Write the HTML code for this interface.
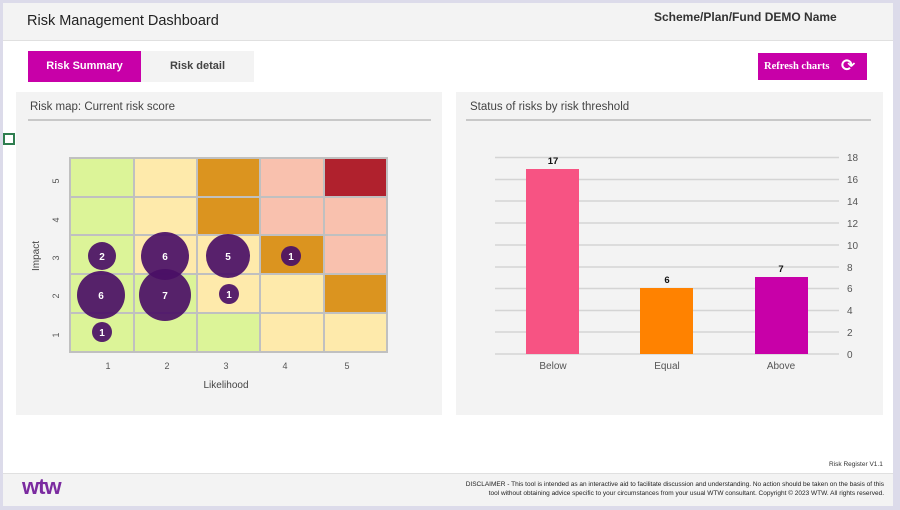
<!DOCTYPE html>
<html><head><meta charset="utf-8"><style>
body{margin:0;width:900px;height:510px;background:#dcdbea;font-family:"Liberation Sans",Arial,sans-serif;position:relative;overflow:hidden}
.abs{position:absolute}
</style></head><body>
<div class="abs" style="left:3px;top:3px;width:890px;height:502px;background:#fff"></div>
<div class="abs" style="left:3px;top:3px;width:890px;height:37px;background:#f3f3f3;border-bottom:1px solid #e0e0e0"></div>
<div class="abs" style="left:27px;top:13px;font-size:14.5px;color:#222">Risk Management Dashboard</div>
<div class="abs" style="left:654px;top:10px;font-size:12px;font-weight:bold;color:#333">Scheme/Plan/Fund DEMO Name</div>
<div class="abs" style="left:28px;top:51px;width:113px;height:31px;background:#c800a8;color:#fff;font-size:11px;font-weight:bold;text-align:center;line-height:31px">Risk Summary</div>
<div class="abs" style="left:141px;top:51px;width:113px;height:31px;background:#f3f3f3;color:#444;font-size:11px;font-weight:bold;text-align:center;line-height:31px">Risk detail</div>
<div class="abs" style="left:758px;top:53px;width:109px;height:27px;background:#c800a8;color:#fff;font-size:10.5px;font-weight:bold;font-family:'Liberation Serif',serif;line-height:27px;padding-left:6px;box-sizing:border-box">Refresh charts<span style="position:absolute;left:83px;top:0;font-size:17px;font-family:'DejaVu Sans'">⟳</span></div>
<div class="abs" style="left:3px;top:133px;width:12px;height:12px;border:2px solid #2e7d4f;box-sizing:border-box"></div>
<div class="abs" style="left:16px;top:92px;width:426px;height:323px;background:#f3f3f3"></div>
<div class="abs" style="left:456px;top:92px;width:427px;height:323px;background:#f3f3f3"></div>
<div class="abs" style="left:30px;top:101px;font-size:11.5px;color:#444">Risk map: Current risk score</div>
<div class="abs" style="left:28px;top:119px;width:403px;height:2px;background:#c8c8c8"></div>
<div class="abs" style="left:470px;top:101px;font-size:11.5px;color:#444">Status of risks by risk threshold</div>
<div class="abs" style="left:466px;top:119px;width:405px;height:2px;background:#c8c8c8"></div>
<svg class="abs" style="left:0;top:0" width="900" height="510" font-family="Liberation Sans, Arial, sans-serif">
<g stroke="#c0c0c0" stroke-width="2">
<rect x="70" y="158" width="64" height="39" fill="#dcf498"/><rect x="134" y="158" width="63" height="39" fill="#feeaab"/><rect x="197" y="158" width="63" height="39" fill="#db941f"/><rect x="260" y="158" width="64" height="39" fill="#f9c1ae"/><rect x="324" y="158" width="63" height="39" fill="#b0212d"/>
<rect x="70" y="197" width="64" height="38" fill="#dcf498"/><rect x="134" y="197" width="63" height="38" fill="#feeaab"/><rect x="197" y="197" width="63" height="38" fill="#db941f"/><rect x="260" y="197" width="64" height="38" fill="#f9c1ae"/><rect x="324" y="197" width="63" height="38" fill="#f9c1ae"/>
<rect x="70" y="235" width="64" height="39" fill="#dcf498"/><rect x="134" y="235" width="63" height="39" fill="#feeaab"/><rect x="197" y="235" width="63" height="39" fill="#feeaab"/><rect x="260" y="235" width="64" height="39" fill="#db941f"/><rect x="324" y="235" width="63" height="39" fill="#f9c1ae"/>
<rect x="70" y="274" width="64" height="39" fill="#dcf498"/><rect x="134" y="274" width="63" height="39" fill="#dcf498"/><rect x="197" y="274" width="63" height="39" fill="#feeaab"/><rect x="260" y="274" width="64" height="39" fill="#feeaab"/><rect x="324" y="274" width="63" height="39" fill="#db941f"/>
<rect x="70" y="313" width="64" height="39" fill="#dcf498"/><rect x="134" y="313" width="63" height="39" fill="#dcf498"/><rect x="197" y="313" width="63" height="39" fill="#dcf498"/><rect x="260" y="313" width="64" height="39" fill="#feeaab"/><rect x="324" y="313" width="63" height="39" fill="#feeaab"/>
</g>
<g fill="#4a0f66" fill-opacity="0.92">
<circle cx="102" cy="256" r="14"/><circle cx="165" cy="256" r="24"/><circle cx="228" cy="256" r="22"/><circle cx="291" cy="256" r="10"/>
<circle cx="101" cy="295" r="24"/><circle cx="165" cy="295" r="26"/><circle cx="229" cy="294" r="10"/><circle cx="102" cy="332" r="10"/>
</g>
<g fill="#fff" font-size="10" font-weight="bold" text-anchor="middle">
<text x="102" y="260">2</text><text x="165" y="260">6</text><text x="228" y="260">5</text><text x="291" y="260">1</text>
<text x="101" y="299">6</text><text x="165" y="299">7</text><text x="229" y="298">1</text><text x="102" y="336">1</text>
</g>
<g fill="#555" font-size="9" text-anchor="middle">
<text x="108" y="369">1</text><text x="167" y="369">2</text><text x="226" y="369">3</text><text x="285" y="369">4</text><text x="347" y="369">5</text>
<text transform="translate(59,181) rotate(-90)">5</text><text transform="translate(59,220) rotate(-90)">4</text><text transform="translate(59,258) rotate(-90)">3</text><text transform="translate(59,296) rotate(-90)">2</text><text transform="translate(59,335) rotate(-90)">1</text>
</g>
<text x="226" y="388" font-size="10" fill="#444" text-anchor="middle">Likelihood</text>
<text transform="translate(39,256) rotate(-90)" font-size="10" fill="#444" text-anchor="middle">Impact</text>
<g stroke="#d4d4d4" stroke-width="1.5">
<line x1="495" y1="157.5" x2="839" y2="157.5"/><line x1="495" y1="179.5" x2="839" y2="179.5"/><line x1="495" y1="201" x2="839" y2="201"/><line x1="495" y1="223" x2="839" y2="223"/><line x1="495" y1="245" x2="839" y2="245"/><line x1="495" y1="267" x2="839" y2="267"/><line x1="495" y1="288.5" x2="839" y2="288.5"/><line x1="495" y1="310.5" x2="839" y2="310.5"/><line x1="495" y1="332" x2="839" y2="332"/><line x1="495" y1="354" x2="839" y2="354"/>
</g>
<rect x="526" y="169" width="53" height="185" fill="#f75383"/>
<rect x="640" y="288" width="53" height="66" fill="#ff8200"/>
<rect x="755" y="277" width="53" height="77" fill="#c800a8"/>
<g font-size="9.5" font-weight="bold" fill="#111" text-anchor="middle">
<text x="553" y="164">17</text><text x="667" y="283">6</text><text x="781" y="272">7</text>
</g>
<g font-size="10" fill="#555" text-anchor="middle">
<text x="553" y="369">Below</text><text x="667" y="369">Equal</text><text x="781" y="369">Above</text>
</g>
<g font-size="10" fill="#555">
<text x="847" y="161">18</text><text x="847" y="183">16</text><text x="847" y="205">14</text><text x="847" y="227">12</text><text x="847" y="249">10</text><text x="847" y="271">8</text><text x="847" y="292">6</text><text x="847" y="314">4</text><text x="847" y="336">2</text><text x="847" y="358">0</text>
</g>
</svg>
<div class="abs" style="left:829px;top:461px;font-size:6.5px;color:#333">Risk Register V1.1</div>
<div class="abs" style="left:3px;top:473px;width:890px;height:32px;background:#f3f3f3;border-top:1px solid #e0e0e0"></div>
<div class="abs" style="left:22px;top:474px;font-size:22px;font-weight:bold;color:#7b2ba0;letter-spacing:-1px">wtw</div>
<div class="abs" style="left:400px;top:481px;width:484px;font-size:6.5px;color:#222;text-align:right;line-height:8.5px;white-space:nowrap">DISCLAIMER - This tool is intended as an interactive aid to facilitate discussion and understanding. No action should be taken on the basis of this<br>tool without obtaining advice specific to your circumstances from your usual WTW consultant. Copyright © 2023 WTW. All rights reserved.</div>
</body></html>
